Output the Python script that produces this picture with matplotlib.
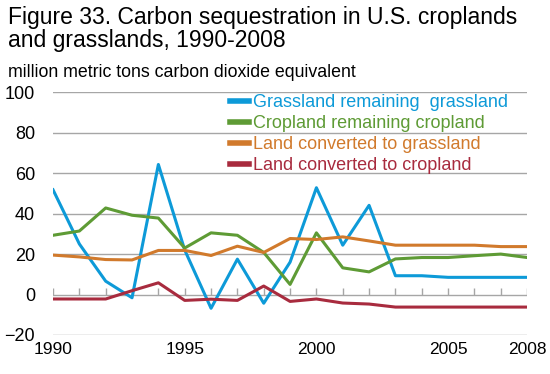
import matplotlib.pyplot as plt
import matplotlib as mpl

mpl.rcParams['font.family'] = ['Liberation Sans', 'DejaVu Sans']

years = list(range(1990, 2009))
grass_grass = [51.8, 25, 6.6, -1.6, 64.3, 22, -6.8, 17.5, -4.3, 16, 52.8, 24.4, 44.1, 9.3, 9.3, 8.5, 8.5, 8.5, 8.5]
crop_crop = [29.3, 31.4, 42.8, 39.2, 37.8, 23, 30.5, 29.3, 20.8, 5, 30.5, 13.2, 11.2, 17.6, 18.3, 18.3, 19.2, 20, 18.3]
to_grass = [19.5, 18.6, 17.3, 17.1, 21.8, 21.8, 19.3, 23.9, 20.8, 27.7, 27.2, 28.5, 26.5, 24.4, 24.4, 24.4, 24.4, 23.7, 23.7]
to_crop = [-2.2, -2.2, -2.2, 1.9, 5.8, -2.9, -2.3, -2.9, 4.2, -3.4, -2.2, -4.2, -4.7, -6.2, -6.2, -6.2, -6.2, -6.2, -6.2]

labels = ['Grassland remaining  grassland', 'Cropland remaining cropland',
          'Land converted to grassland', 'Land converted to cropland']
colors = ['#0d9ad8', '#5e9b35', '#d17a2c', '#a82b3e']
series = [grass_grass, crop_crop, to_grass, to_crop]

fig = plt.figure(figsize=(5.5, 3.74), dpi=100)
ax = fig.add_axes([0.0964, 0.1043, 0.862, 0.649])

for v in [-20, 0, 20, 40, 60, 80, 100]:
    ax.axhline(v, color='#a6a6a6', lw=1, zorder=0)
ax.vlines(years, 0, 3, color='#a6a6a6', lw=1, zorder=0)

for vals, c, lab in zip(series, colors, labels):
    ax.plot(years, vals, color=c, lw=2.2, label=lab)

ax.set_xlim(1990, 2008)
ax.set_ylim(-20, 100)
ax.set_yticks([-20, 0, 20, 40, 60, 80, 100])
ax.set_xticks([1990, 1995, 2000, 2005, 2008])
ax.tick_params(length=0)
ax.tick_params(axis='x', labelsize=12.5, pad=5)
ax.tick_params(axis='y', labelsize=13, pad=13)
for s in ax.spines.values():
    s.set_visible(False)

leg = ax.legend(loc='upper left', bbox_to_anchor=(0.354, 1.03), frameon=False,
                fontsize=13, handlelength=1.05, handletextpad=0.25,
                labelspacing=0.23, labelcolor='linecolor', borderpad=0)
for h in leg.get_lines():
    h.set_linewidth(4)

fig.text(0.014, 0.985, 'Figure 33. Carbon sequestration in U.S. croplands\nand grasslands, 1990-2008',
         fontsize=16.5, va='top', ha='left', linespacing=1.0)
fig.text(0.014, 0.83, 'million metric tons carbon dioxide equivalent', fontsize=12.8,
         va='top', ha='left')

fig.savefig('out.png', dpi=100)
